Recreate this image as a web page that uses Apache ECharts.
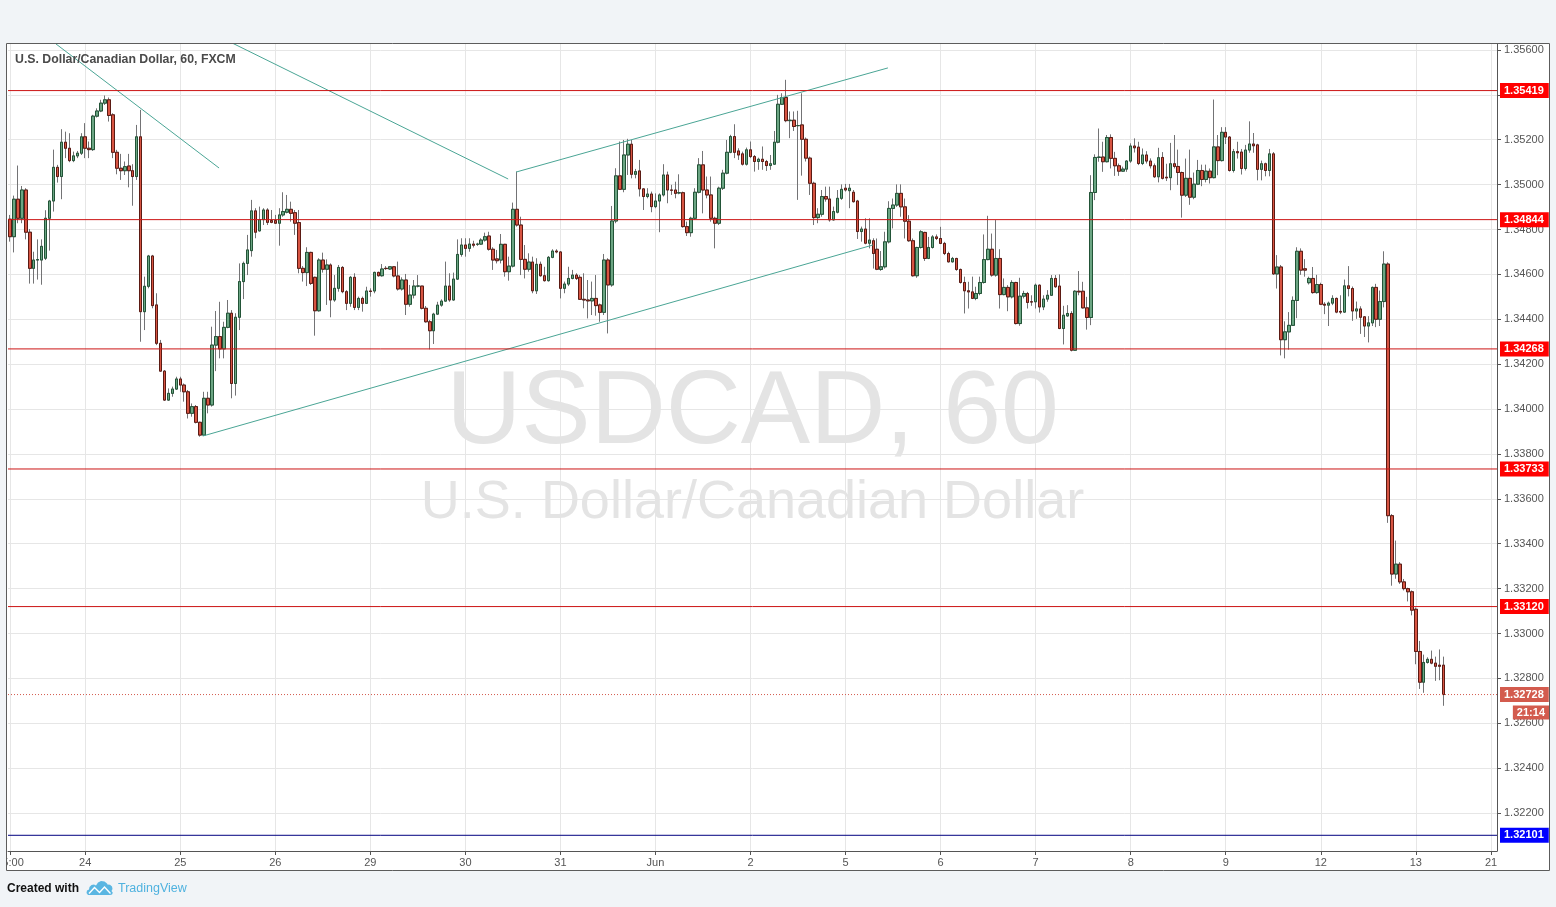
<!DOCTYPE html>
<html>
<head>
<meta charset="utf-8">
<script src="https://cdn.jsdelivr.net/npm/echarts@6/dist/echarts.min.js"></script>
<style>
html,body{margin:0;padding:0;background:#f1f4f7;overflow:hidden;}
#c{width:1556px;height:907px;}
</style>
</head>
<body>
<div id="c"></div>
<script>
// ---------------- DATA (hourly candles, USDCAD 60) ----------------
const opens = [
1.34846,1.34768,1.34935,1.34850,1.34976,1.34788,1.34627,1.34664,1.34664,1.34672,
1.34850,1.34927,1.35077,1.35036,1.35189,1.35162,1.35107,1.35128,1.35140,1.35213,
1.35162,1.35156,1.35305,1.35328,1.35363,1.35378,1.35311,1.35144,1.35073,1.35062,
1.35083,1.35062,1.35036,1.35213,1.34434,1.34547,1.34682,1.34464,1.34293,1.34169,
1.34040,1.34070,1.34089,1.34134,1.34107,1.34077,1.33981,1.34011,1.33941,1.33884,
1.34048,1.34018,1.34285,1.34323,1.34268,1.34364,1.34427,1.34114,1.34409,1.34568,
1.34649,1.34706,1.34883,1.34794,1.34844,1.34887,1.34840,1.34840,1.34828,1.34865,
1.34877,1.34890,1.34875,1.34831,1.34627,1.34608,1.34698,1.34587,1.34438,1.34664,
1.34623,1.34642,1.34486,1.34538,1.34631,1.34523,1.34471,1.34587,1.34453,1.34493,
1.34471,1.34526,1.34526,1.34609,1.34594,1.34627,1.34624,1.34634,1.34593,1.34535,
1.34575,1.34467,1.34508,1.34548,1.34548,1.34449,1.34389,1.34349,1.34423,1.34463,
1.34481,1.34548,1.34486,1.34579,1.34689,1.34731,1.34716,1.34735,1.34734,1.34735,
1.34753,1.34771,1.34712,1.34669,1.34664,1.34734,1.34612,1.34637,1.34890,1.34820,
1.34667,1.34623,1.34655,1.34527,1.34645,1.34594,1.34572,1.34676,1.34704,1.34700,
1.34538,1.34557,1.34582,1.34597,1.34587,1.34489,1.34486,1.34482,1.34493,1.34464,
1.34431,1.34664,1.34553,1.34838,1.35039,1.34979,1.35132,1.35180,1.35046,1.35061,
1.34981,1.34947,1.34958,1.34902,1.34927,1.34954,1.35043,1.34976,1.34976,1.34963,
1.34964,1.34813,1.34786,1.34850,1.34966,1.35088,1.34976,1.34954,1.34850,1.34828,
1.34984,1.35051,1.35144,1.35214,1.35150,1.35137,1.35091,1.35155,1.35125,1.35103,
1.35113,1.35103,1.35085,1.35091,1.35189,1.35358,1.35388,1.35285,1.35287,1.35263,
1.35266,1.35202,1.35118,1.35006,1.34853,1.34868,1.34947,1.34936,1.34843,1.34877,
1.34939,1.34984,1.34973,1.34966,1.34927,1.34791,1.34802,1.34739,1.34750,1.34712,
1.34622,1.34634,1.34745,1.34894,1.34909,1.34961,1.34901,1.34837,1.34750,1.34594,
1.34720,1.34787,1.34671,1.34720,1.34767,1.34760,1.34738,1.34693,1.34656,1.34671,
1.34622,1.34564,1.34527,1.34522,1.34493,1.34515,1.34564,1.34666,1.34712,1.34597,
1.34671,1.34510,1.34542,1.34500,1.34564,1.34381,1.34503,1.34515,1.34478,1.34478,
1.34552,1.34455,1.34490,1.34507,1.34582,1.34548,1.34359,1.34415,1.34426,1.34262,
1.34525,1.34525,1.34451,1.34408,1.34965,1.35121,1.35123,1.35102,1.35210,1.35117,
1.35084,1.35060,1.35069,1.35105,1.35172,1.35167,1.35094,1.35132,1.35105,1.35084,
1.35035,1.35121,1.35033,1.35031,1.35093,1.35081,1.35054,1.34953,1.35028,1.34944,
1.35002,1.35063,1.35023,1.35060,1.35031,1.35168,1.35107,1.35233,1.35212,1.35063,
1.35147,1.35145,1.35072,1.35154,1.35181,1.35177,1.35068,1.35093,1.35063,1.35137,
1.34602,1.34633,1.34309,1.34344,1.34373,1.34484,1.34703,1.34625,1.34563,1.34582,
1.34519,1.34555,1.34467,1.34463,1.34472,1.34493,1.34435,1.34432,1.34549,1.34537,
1.34437,1.34446,1.34411,1.34370,1.34384,1.34542,1.34400,1.34479,1.34646,1.33525,
1.33265,1.33309,1.33230,1.33200,1.33186,1.33108,1.32920,1.32783,1.32871,1.32885,
1.32868,1.32859,1.32859
];
const closes = [
1.34768,1.34935,1.34850,1.34976,1.34788,1.34627,1.34664,1.34666,1.34725,1.34850,
1.34927,1.35077,1.35036,1.35189,1.35162,1.35107,1.35128,1.35140,1.35213,1.35162,
1.35156,1.35305,1.35328,1.35363,1.35378,1.35308,1.35144,1.35073,1.35062,1.35080,
1.35062,1.35036,1.35213,1.34434,1.34547,1.34682,1.34461,1.34293,1.34169,1.34040,
1.34070,1.34089,1.34134,1.34107,1.34077,1.33981,1.34011,1.33941,1.33884,1.34048,
1.34018,1.34285,1.34323,1.34268,1.34364,1.34427,1.34114,1.34409,1.34568,1.34649,
1.34709,1.34883,1.34788,1.34844,1.34887,1.34832,1.34832,1.34828,1.34865,1.34880,
1.34890,1.34872,1.34828,1.34627,1.34608,1.34698,1.34560,1.34438,1.34664,1.34623,
1.34642,1.34486,1.34538,1.34631,1.34523,1.34471,1.34587,1.34453,1.34493,1.34471,
1.34526,1.34524,1.34609,1.34594,1.34624,1.34626,1.34634,1.34593,1.34535,1.34575,
1.34467,1.34508,1.34548,1.34548,1.34449,1.34389,1.34349,1.34423,1.34463,1.34481,
1.34548,1.34486,1.34579,1.34689,1.34731,1.34716,1.34735,1.34730,1.34735,1.34753,
1.34768,1.34712,1.34664,1.34661,1.34734,1.34612,1.34637,1.34890,1.34820,1.34667,
1.34623,1.34655,1.34527,1.34645,1.34594,1.34572,1.34676,1.34704,1.34700,1.34538,
1.34557,1.34582,1.34597,1.34582,1.34489,1.34486,1.34482,1.34493,1.34461,1.34431,
1.34664,1.34553,1.34838,1.35039,1.34979,1.35132,1.35180,1.35046,1.35058,1.34981,
1.34947,1.34958,1.34902,1.34927,1.34954,1.35043,1.34976,1.34975,1.34961,1.34964,
1.34813,1.34786,1.34850,1.34966,1.35088,1.34976,1.34954,1.34850,1.34828,1.34984,
1.35051,1.35144,1.35214,1.35144,1.35132,1.35091,1.35155,1.35125,1.35103,1.35113,
1.35103,1.35085,1.35093,1.35189,1.35358,1.35388,1.35285,1.35287,1.35259,1.35263,
1.35202,1.35118,1.35006,1.34853,1.34868,1.34947,1.34936,1.34843,1.34880,1.34939,
1.34979,1.34976,1.34984,1.34924,1.34791,1.34802,1.34739,1.34753,1.34693,1.34623,
1.34634,1.34745,1.34894,1.34909,1.34961,1.34901,1.34837,1.34750,1.34594,1.34720,
1.34790,1.34671,1.34720,1.34767,1.34760,1.34738,1.34693,1.34656,1.34671,1.34622,
1.34564,1.34527,1.34522,1.34493,1.34515,1.34564,1.34666,1.34712,1.34597,1.34671,
1.34510,1.34542,1.34500,1.34564,1.34381,1.34503,1.34515,1.34475,1.34477,1.34552,
1.34455,1.34490,1.34507,1.34582,1.34545,1.34359,1.34418,1.34426,1.34262,1.34525,
1.34522,1.34451,1.34408,1.34965,1.35121,1.35123,1.35102,1.35210,1.35117,1.35084,
1.35060,1.35069,1.35105,1.35172,1.35164,1.35094,1.35132,1.35105,1.35084,1.35035,
1.35120,1.35028,1.35030,1.35093,1.35081,1.35054,1.34953,1.35028,1.34944,1.35002,
1.35063,1.35023,1.35060,1.35031,1.35168,1.35107,1.35233,1.35212,1.35063,1.35147,
1.35142,1.35072,1.35154,1.35181,1.35173,1.35068,1.35093,1.35063,1.35137,1.34602,
1.34633,1.34309,1.34344,1.34373,1.34484,1.34703,1.34619,1.34619,1.34582,1.34519,
1.34555,1.34467,1.34463,1.34472,1.34493,1.34432,1.34432,1.34549,1.34537,1.34437,
1.34446,1.34409,1.34370,1.34384,1.34542,1.34400,1.34479,1.34646,1.33525,1.33265,
1.33309,1.33230,1.33200,1.33186,1.33104,1.32920,1.32783,1.32871,1.32885,1.32868,
1.32854,1.32854,1.32728
];
const highs = [
1.34865,1.34951,1.35085,1.34994,1.34984,1.34802,1.34701,1.34756,1.34756,1.34886,
1.34932,1.35156,1.35088,1.35247,1.35236,1.35229,1.35147,1.35150,1.35229,1.35274,
1.35192,1.35311,1.35340,1.35378,1.35397,1.35388,1.35318,1.35155,1.35137,1.35103,
1.35137,1.35091,1.35266,1.35333,1.34590,1.34687,1.34687,1.34516,1.34308,1.34174,
1.34092,1.34100,1.34144,1.34144,1.34114,1.34085,1.34025,1.34018,1.33944,1.34077,
1.34077,1.34367,1.34437,1.34478,1.34389,1.34486,1.34441,1.34427,1.34649,1.34657,
1.34776,1.34932,1.34895,1.34902,1.34895,1.34895,1.34887,1.34865,1.34895,1.34966,
1.34954,1.34924,1.34887,1.34887,1.34637,1.34721,1.34701,1.34590,1.34672,1.34697,
1.34667,1.34649,1.34597,1.34642,1.34637,1.34530,1.34593,1.34605,1.34501,1.34501,
1.34545,1.34538,1.34612,1.34612,1.34646,1.34637,1.34637,1.34637,1.34657,1.34587,
1.34602,1.34553,1.34575,1.34597,1.34548,1.34459,1.34397,1.34429,1.34478,1.34489,
1.34657,1.34605,1.34608,1.34756,1.34761,1.34761,1.34761,1.34750,1.34741,1.34761,
1.34786,1.34790,1.34721,1.34709,1.34780,1.34736,1.34679,1.34920,1.35058,1.34857,
1.34731,1.34694,1.34679,1.34672,1.34657,1.34634,1.34682,1.34712,1.34712,1.34704,
1.34568,1.34634,1.34620,1.34605,1.34597,1.34605,1.34575,1.34568,1.34597,1.34470,
1.34691,1.34672,1.34905,1.35073,1.35192,1.35199,1.35204,1.35199,1.35070,1.35110,
1.34984,1.34984,1.34969,1.34961,1.34961,1.35091,1.35058,1.34999,1.35013,1.35046,
1.34969,1.34835,1.34857,1.34984,1.35118,1.35150,1.35036,1.35036,1.34857,1.34991,
1.35066,1.35199,1.35222,1.35269,1.35162,1.35147,1.35165,1.35192,1.35132,1.35120,
1.35170,1.35110,1.35132,1.35239,1.35400,1.35407,1.35467,1.35326,1.35326,1.35329,
1.35407,1.35210,1.35125,1.35013,1.34895,1.34976,1.34991,1.34991,1.34902,1.34976,
1.35001,1.35003,1.35003,1.34976,1.34932,1.34813,1.34850,1.34850,1.34761,1.34760,
1.34704,1.34790,1.34926,1.34938,1.35001,1.35001,1.34938,1.34864,1.34760,1.34723,
1.34797,1.34790,1.34767,1.34775,1.34778,1.34812,1.34745,1.34701,1.34678,1.34674,
1.34626,1.34590,1.34567,1.34590,1.34545,1.34590,1.34778,1.34861,1.34782,1.34842,
1.34712,1.34582,1.34552,1.34574,1.34567,1.34585,1.34527,1.34522,1.34507,1.34559,
1.34555,1.34507,1.34530,1.34597,1.34597,1.34600,1.34460,1.34463,1.34436,1.34530,
1.34615,1.34567,1.34500,1.35042,1.35135,1.35250,1.35191,1.35221,1.35224,1.35146,
1.35094,1.35080,1.35109,1.35184,1.35206,1.35191,1.35161,1.35149,1.35117,1.35094,
1.35164,1.35145,1.35093,1.35186,1.35221,1.35156,1.35058,1.35116,1.35156,1.35054,
1.35110,1.35089,1.35089,1.35072,1.35379,1.35221,1.35256,1.35256,1.35216,1.35159,
1.35191,1.35159,1.35177,1.35282,1.35230,1.35182,1.35107,1.35098,1.35159,1.35145,
1.34686,1.34642,1.34391,1.34432,1.34502,1.34721,1.34716,1.34668,1.34590,1.34633,
1.34598,1.34563,1.34476,1.34479,1.34507,1.34497,1.34507,1.34577,1.34637,1.34546,
1.34479,1.34458,1.34414,1.34414,1.34546,1.34558,1.34528,1.34703,1.34654,1.33532,
1.33414,1.33318,1.33243,1.33204,1.33192,1.33116,1.32967,1.32906,1.32894,1.32924,
1.32897,1.32929,1.32897
];
const lows = [
1.34746,1.34698,1.34828,1.34828,1.34756,1.34559,1.34559,1.34577,1.34554,1.34664,
1.34706,1.34880,1.35009,1.34935,1.35118,1.35100,1.35100,1.35118,1.35132,1.35118,
1.35118,1.35150,1.35299,1.35323,1.35355,1.35281,1.35118,1.35046,1.35021,1.35043,
1.34988,1.34906,1.35021,1.34300,1.34352,1.34538,1.34449,1.34285,1.34166,1.34036,
1.34036,1.34055,1.34085,1.34077,1.34033,1.33958,1.33966,1.33936,1.33877,1.33881,
1.33981,1.34011,1.34169,1.34226,1.34226,1.34360,1.34048,1.34060,1.34352,1.34490,
1.34597,1.34679,1.34761,1.34791,1.34820,1.34820,1.34828,1.34825,1.34728,1.34857,
1.34872,1.34835,1.34776,1.34605,1.34568,1.34548,1.34553,1.34327,1.34434,1.34608,
1.34464,1.34409,1.34478,1.34523,1.34516,1.34441,1.34456,1.34441,1.34441,1.34434,
1.34468,1.34501,1.34516,1.34590,1.34590,1.34620,1.34620,1.34587,1.34528,1.34528,
1.34419,1.34456,1.34493,1.34542,1.34444,1.34385,1.34266,1.34290,1.34419,1.34456,
1.34478,1.34478,1.34483,1.34575,1.34679,1.34679,1.34701,1.34720,1.34727,1.34731,
1.34746,1.34706,1.34620,1.34649,1.34649,1.34590,1.34572,1.34631,1.34813,1.34597,
1.34582,1.34612,1.34516,1.34513,1.34590,1.34568,1.34568,1.34672,1.34694,1.34493,
1.34516,1.34548,1.34578,1.34575,1.34486,1.34449,1.34404,1.34419,1.34416,1.34389,
1.34419,1.34337,1.34545,1.34828,1.34976,1.34966,1.35043,1.35028,1.35028,1.34947,
1.34887,1.34939,1.34877,1.34895,1.34788,1.34947,1.34917,1.34954,1.34939,1.34957,
1.34808,1.34771,1.34768,1.34843,1.34961,1.34872,1.34939,1.34835,1.34716,1.34820,
1.34976,1.35046,1.35140,1.35118,1.35110,1.35085,1.35085,1.35118,1.35058,1.35066,
1.35066,1.35061,1.35066,1.35088,1.35184,1.35355,1.35278,1.35207,1.35239,1.34932,
1.35040,1.35103,1.34954,1.34820,1.34828,1.34857,1.34924,1.34835,1.34840,1.34872,
1.34932,1.34969,1.34895,1.34920,1.34758,1.34746,1.34734,1.34716,1.34626,1.34619,
1.34616,1.34626,1.34738,1.34805,1.34901,1.34857,1.34760,1.34745,1.34590,1.34585,
1.34715,1.34660,1.34668,1.34715,1.34753,1.34735,1.34686,1.34653,1.34653,1.34616,
1.34559,1.34426,1.34448,1.34490,1.34485,1.34507,1.34559,1.34663,1.34590,1.34590,
1.34448,1.34507,1.34436,1.34493,1.34377,1.34371,1.34493,1.34448,1.34460,1.34448,
1.34430,1.34441,1.34478,1.34504,1.34540,1.34356,1.34288,1.34411,1.34257,1.34259,
1.34507,1.34448,1.34354,1.34374,1.34931,1.35102,1.35057,1.35099,1.35072,1.35039,
1.35039,1.35057,1.35057,1.35097,1.35143,1.35087,1.35087,1.35094,1.35072,1.35030,
1.35010,1.35023,1.35016,1.34975,1.35072,1.34998,1.34853,1.34945,1.34910,1.34935,
1.34998,1.34993,1.35010,1.35005,1.35028,1.35042,1.35103,1.35181,1.35058,1.35054,
1.35116,1.35045,1.35063,1.35142,1.35142,1.35019,1.35019,1.35037,1.35037,1.34598,
1.34537,1.34239,1.34226,1.34265,1.34370,1.34405,1.34598,1.34590,1.34555,1.34514,
1.34514,1.34463,1.34423,1.34370,1.34463,1.34427,1.34423,1.34428,1.34502,1.34393,
1.34402,1.34335,1.34321,1.34297,1.34370,1.34365,1.34370,1.34453,1.33493,1.33213,
1.33244,1.33221,1.33192,1.33143,1.33081,1.32863,1.32753,1.32736,1.32866,1.32863,
1.32789,1.32792,1.32678
];

const slotCount = 376;   // hourly slots on the time axis (incl. empty right margin)
const dayTickIndex = [0, 19, 43, 67, 91, 115, 139, 163, 187, 211, 235, 259, 283, 307, 331, 355, 374];
const dayTickLabel = ['05:00', '24', '25', '26', '29', '30', '31', 'Jun', '2', '5', '6', '7', '8', '9', '12', '13', '21'];
const priceTicks = [1.322, 1.324, 1.326, 1.328, 1.330, 1.332, 1.334, 1.336, 1.338, 1.340,
                    1.342, 1.344, 1.346, 1.348, 1.350, 1.352, 1.354, 1.356];
const priceLabelTicks = [1.322, 1.324, 1.326, 1.328, 1.330, 1.332, 1.334, 1.336, 1.338, 1.340,
                    1.342, 1.344, 1.346, 1.348, 1.350, 1.352, 1.356];
const priceMin = 1.32031, priceMax = 1.35631;

const redLevels = [1.35419, 1.34844, 1.34268, 1.33733, 1.33120];
const blueLevel = 1.32101;
const lastPrice = 1.32728;
const countdown = '21:14';

// trend lines: [[slotIndex, price], [slotIndex, price]]
const trendLines = [
  [[11.6, 1.35627], [52.8, 1.35074]],
  [[56.1, 1.35631], [125.8, 1.35025]],
  [[127.8, 1.35056], [221.7, 1.35520]],
  [[48.7, 1.33880], [217.9, 1.34731]]
];

const titleText = 'U.S. Dollar/Canadian Dollar, 60, FXCM';
const wmSymbol = 'USDCAD, 60';
const wmName = 'U.S. Dollar/Canadian Dollar';

// ---------------- BUILD ----------------
const FONT = "'Liberation Sans', Arial, sans-serif";
const categories = Array.from({length: slotCount}, (_, i) => 'h' + i);
const labelAt = {};
dayTickIndex.forEach((k, j) => { labelAt[k] = dayTickLabel[j]; });
const isTick = (idx) => labelAt[idx] !== undefined;

const wickData = opens.map((o, i) => {
  const c = closes[i];
  return [o, c, Math.min(lows[i], o, c), Math.max(highs[i], o, c)];
});
const bodyData = opens.map((o, i) => {
  const c = closes[i];
  return [o, c, Math.min(o, c), Math.max(o, c)];
});

const UP = '#6ba583', UPB = '#225437', DN = '#d75442', DNB = '#5b1a13', WICK = '#737375';

function levelSeries(v, lineColor, boxColor, dashed, z) {
  return {
    type: 'line', xAxisIndex: 1, yAxisIndex: 0, silent: true, animation: false, clip: false,
    symbol: 'none', showSymbol: false, z: z,
    data: [[-0.5, v], [slotCount - 0.5, v]],
    lineStyle: {color: lineColor, width: 1, type: dashed ? [1, 2] : 'solid'},
    endLabel: {
      show: true, distance: 3, formatter: v.toFixed(5),
      backgroundColor: boxColor, color: '#ffffff', fontWeight: 'bold', fontSize: 11,
      fontFamily: FONT, padding: [2, 5, 1, 4], lineHeight: 12
    }
  };
}

const levelSeriesList = redLevels.map(v => levelSeries(v, '#cc1414', '#ff0000', false, 5));
levelSeriesList.push(levelSeries(blueLevel, '#000080', '#0000ff', false, 5));
levelSeriesList.push(levelSeries(lastPrice, '#d35b4e', '#d35b4e', true, 5));

const trendSeries = trendLines.map((seg, i) => ({
  type: 'line', name: 'trend' + i, xAxisIndex: 1, yAxisIndex: 0,
  data: seg, symbol: 'none', showSymbol: false, silent: true, clip: true,
  lineStyle: {color: '#4aa595', width: 1}, z: 4, animation: false
}));

const BG = '#f1f4f7';
const graphics = [
  {id: 'wm1', type: 'text', x: 752.5, y: 414, z: 1, silent: true,
   style: {text: wmSymbol, fill: '#e4e4e4', font: '104px ' + FONT, align: 'center', verticalAlign: 'middle'}},
  {id: 'wm2', type: 'text', x: 752.5, y: 503, z: 1, silent: true,
   style: {text: wmName, fill: '#e4e4e4', font: '54px ' + FONT, align: 'center', verticalAlign: 'middle'}},
  {id: 'bTop', type: 'rect', z: 100, silent: true, shape: {x: 0, y: 0, width: 1556, height: 43}, style: {fill: BG}},
  {id: 'bBot', type: 'rect', z: 100, silent: true, shape: {x: 0, y: 871, width: 1556, height: 36}, style: {fill: BG}},
  {id: 'bLeft', type: 'rect', z: 100, silent: true, shape: {x: 0, y: 43, width: 6, height: 828}, style: {fill: BG}},
  {id: 'bRight', type: 'rect', z: 100, silent: true, shape: {x: 1550, y: 43, width: 6, height: 828}, style: {fill: BG}},
  {id: 'frame', type: 'rect', z: 101, silent: true, shape: {x: 6.5, y: 43.5, width: 1543, height: 827},
   style: {fill: 'none', stroke: '#5c5c5c', lineWidth: 1}},
  {id: 'title', type: 'text', x: 15, y: 60, z: 101, silent: true,
   style: {text: titleText, fill: '#4a4a4a', font: 'bold 12.3px ' + FONT, align: 'left', verticalAlign: 'middle'}},
  {id: 'created', type: 'text', x: 7, y: 889, z: 101, silent: true,
   style: {text: 'Created with', fill: '#111111', font: 'bold 12px ' + FONT, align: 'left', verticalAlign: 'middle'}},
  {id: 'logo', type: 'polygon', z: 101, silent: true,
   shape: {points: [[88,895],[86.5,893],[87,890.5],[89,889.5],[89.5,887],[91.5,885],[94,884.5],[96,885.5],
                    [98,882.5],[101,881],[104.5,881.5],[107,883.5],[107.5,884.5],[110,884.8],[112,886.5],
                    [112.5,889],[111.5,891],[112.8,892.8],[112,894.6],[110,895]]},
   style: {fill: '#5ab6e2'}},
  {id: 'logoZig', type: 'polyline', z: 102, silent: true,
   shape: {points: [[89, 893.5], [94.5, 887.5], [99.5, 892.5], [104.5, 887], [110.5, 893.5]]},
   style: {stroke: '#ffffff', lineWidth: 1.4, fill: null}},
  {id: 'tv', type: 'text', x: 118, y: 889, z: 101, silent: true,
   style: {text: 'TradingView', fill: '#4fb2df', font: '12.5px ' + FONT, align: 'left', verticalAlign: 'middle'}}
];

const option = {
  animation: false,
  backgroundColor: '#ffffff',
  textStyle: {fontFamily: FONT},
  grid: {left: 8, right: 59, top: 43, bottom: 56, containLabel: false, outerBoundsMode: 'none'},
  xAxis: [
    {
      type: 'category', data: categories, boundaryGap: true,
      axisLine: {show: true, onZero: false, lineStyle: {color: '#555555', width: 1}},
      axisTick: {show: true, alignWithLabel: true, interval: isTick, length: 4, lineStyle: {color: '#555555'}},
      axisLabel: {show: true, interval: isTick, formatter: (v, idx) => labelAt[idx] || '',
                  color: '#555555', fontSize: 11, fontFamily: FONT, margin: 6, hideOverlap: false},
      splitLine: {show: true, interval: isTick, alignWithLabel: true, lineStyle: {color: '#e6e6e6', width: 1}}
    },
    {
      type: 'value', show: false, min: -0.5, max: slotCount - 0.5,
      splitLine: {show: false}, axisLine: {show: false, onZero: false}, axisTick: {show: false}, axisLabel: {show: false}
    }
  ],
  yAxis: {
    type: 'value', position: 'right', min: priceMin, max: priceMax,
    axisLine: {show: true, onZero: false, lineStyle: {color: '#555555', width: 1}},
    axisTick: {show: true, length: 4, inside: false, customValues: priceTicks, lineStyle: {color: '#555555'}},
    axisLabel: {show: true, customValues: priceLabelTicks, formatter: v => Number(v).toFixed(5),
                color: '#555555', fontSize: 11, fontFamily: FONT, margin: 7},
    splitLine: {show: true, lineStyle: {color: '#e6e6e6', width: 1}}
  },
  graphic: {elements: graphics},
  series: [
    {
      type: 'candlestick', name: 'wick', data: wickData, barWidth: 3, z: 2, silent: true,
      itemStyle: {color: 'rgba(0,0,0,0)', color0: 'rgba(0,0,0,0)', borderColor: WICK, borderColor0: WICK, borderWidth: 1}
    },
    {
      type: 'candlestick', name: 'USDCAD', data: bodyData, barWidth: 3, z: 3, silent: true,
      itemStyle: {color: UP, color0: DN, borderColor: UPB, borderColor0: DNB, borderWidth: 1}
    }
  ].concat(trendSeries).concat(levelSeriesList)
};

const chart = echarts.init(document.getElementById('c'), null, {renderer: 'canvas', width: 1556, height: 907});
chart.setOption(option);
const yLast = chart.convertToPixel({yAxisIndex: 0}, lastPrice);
chart.setOption({graphic: {elements: [
  {id: 'countdown', type: 'text', x: 1549, y: yLast + 18, z: 103, silent: true,
   style: {text: countdown, fill: '#ffffff', font: 'bold 11px ' + FONT, align: 'right', verticalAlign: 'middle',
           backgroundColor: '#d35b4e', padding: [2, 4, 1, 4]}}
]}});
</script>
</body>
</html>
